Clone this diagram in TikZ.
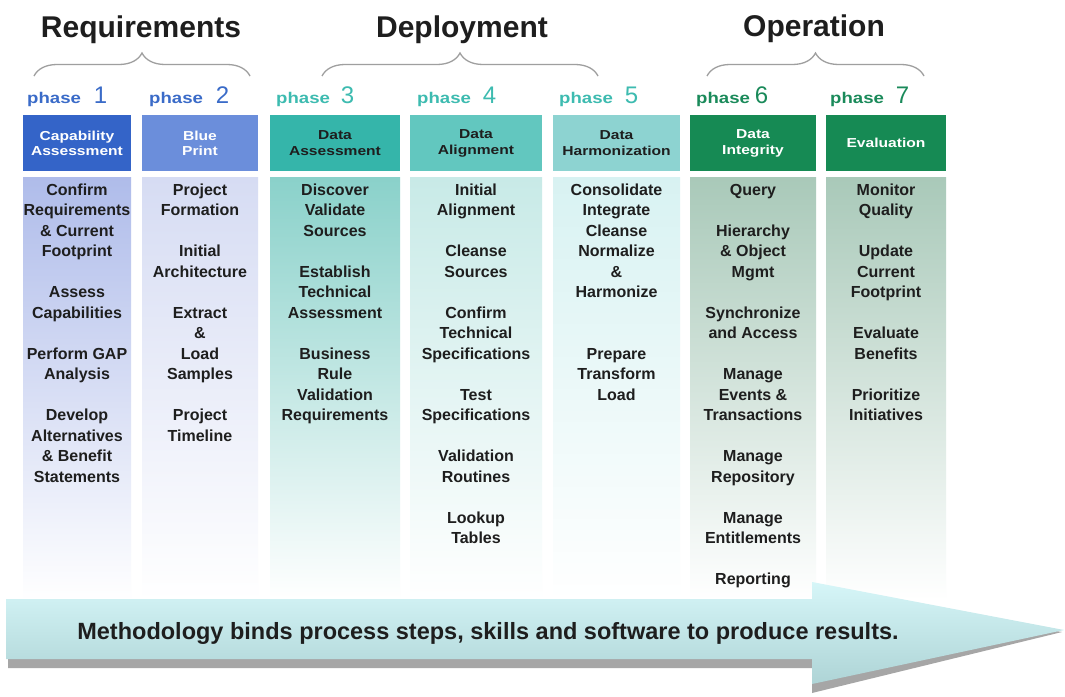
\documentclass[tikz,border=0pt]{standalone}
\usepackage{fontspec}
\setmainfont{Liberation Sans}
\newfontfamily\hdrfont[FakeStretch=1.2]{Liberation Sans}
\usetikzlibrary{decorations.pathreplacing,shadings}
\definecolor{hA}{HTML}{3464C8}
\definecolor{hB}{HTML}{6B8EDB}
\definecolor{hC}{HTML}{35B5AA}
\definecolor{hD}{HTML}{62C7BF}
\definecolor{hE}{HTML}{8DD3D1}
\definecolor{hF}{HTML}{168A54}
\definecolor{bA}{HTML}{AFBCEA}
\definecolor{bB}{HTML}{D6DCF3}
\definecolor{bC}{HTML}{8AD1CA}
\definecolor{bD}{HTML}{C8EAE7}
\definecolor{bE}{HTML}{D8F2F2}
\definecolor{bF}{HTML}{A9C9B9}
\definecolor{pBlue}{HTML}{3A6BC8}
\definecolor{pTeal}{HTML}{3DBBB0}
\definecolor{pGreen}{HTML}{1A8A5A}
\definecolor{txt}{HTML}{1E1E1E}
\definecolor{arrTop}{HTML}{D6F6F8}
\definecolor{arrBot}{HTML}{AED4D6}
\definecolor{arrShadow}{HTML}{A6A6A6}
\begin{document}
\begin{tikzpicture}[x=1pt,y=-1pt,
  title/.style={font=\fontsize{30}{34}\selectfont\bfseries, text=txt, anchor=base, inner sep=0},
  bracep/.style={decorate, decoration={brace, amplitude=23pt, aspect=0.5}, draw=gray!75, line width=1.3pt},
  hdrbox/.style={inner sep=0, minimum height=56pt, align=center, anchor=north,
     font=\hdrfont\fontsize{13}{15.5}\selectfont\bfseries},
  bodybox/.style={inner sep=0, minimum height=423pt, anchor=north, shade},
  items/.style={inner sep=0, anchor=north, align=center, text=txt,
     font=\fontsize{16}{20.5}\selectfont\bfseries},
  phaselbl/.style={inner sep=0, anchor=base west},
]
\useasboundingbox (0,0) rectangle (1065,696);
\fill[white] (0,0) rectangle (1065,696);

% titles
\node[title] (tReq) at (141,37) {Requirements};
\node[title] (tDep) at (462,37) {Deployment};
\node[title] (tOp) at (814,36) {Operation};

% braces
\coordinate (rq1) at (34,76); \coordinate (rq2) at (250,76);
\coordinate (dp1) at (322,76); \coordinate (dp2) at (598,76);
\coordinate (op1) at (707,76); \coordinate (op2) at (924,76);
\draw[bracep] (rq1) -- (rq2);
\draw[bracep] (dp1) -- (dp2);
\draw[bracep] (op1) -- (op2);

% phase labels
\newcommand{\phw}{{\hdrfont\fontsize{15.5}{18}\selectfont\bfseries phase}}
\newcommand{\phn}[1]{{\fontsize{24}{26}\selectfont #1}}
\node[phaselbl, text=pBlue] (ph1) at (27,103) {\phw\hspace{13pt}\phn{1}};
\node[phaselbl, text=pBlue] (ph2) at (149,103) {\phw\hspace{13pt}\phn{2}};
\node[phaselbl, text=pTeal] (ph3) at (276,103) {\phw\hspace{11pt}\phn{3}};
\node[phaselbl, text=pTeal] (ph4) at (417,103) {\phw\hspace{12pt}\phn{4}};
\node[phaselbl, text=pTeal] (ph5) at (559,103) {\phw\hspace{12pt}\phn{5}};
\node[phaselbl, text=pGreen] (ph6) at (696,103) {\phw\hspace{5pt}\phn{6}};
\node[phaselbl, text=pGreen] (ph7) at (830,103) {\phw\hspace{12pt}\phn{7}};

% body columns
\node[bodybox, minimum width=108pt, top color=bA, middle color=bA!55!white, bottom color=white] (b1) at (77,177) {};
\node[bodybox, minimum width=116pt, top color=bB, middle color=bB!55!white, bottom color=white] (b2) at (200,177) {};
\node[bodybox, minimum width=130pt, top color=bC, middle color=bC!55!white, bottom color=white] (b3) at (335,177) {};
\node[bodybox, minimum width=132pt, top color=bD, middle color=bD!55!white, bottom color=white] (b4) at (476,177) {};
\node[bodybox, minimum width=127pt, top color=bE, middle color=bE!55!white, bottom color=white] (b5) at (616.5,177) {};
\node[bodybox, minimum width=126pt, top color=bF, middle color=bF!55!white, bottom color=white] (b6) at (753,177) {};
\node[bodybox, minimum width=120pt, top color=bF, middle color=bF!55!white, bottom color=white] (b7) at (886,177) {};

% header boxes
\node[hdrbox, minimum width=108pt, fill=hA, text=white] (h1) at (77,115) {Capability\\Assessment};
\node[hdrbox, minimum width=116pt, fill=hB, text=white] (h2) at (200,115) {Blue\\Print};
\node[hdrbox, minimum width=130pt, fill=hC, text=txt] (h3) at (335,115) {Data\\Assessment};
\node[hdrbox, minimum width=132pt, fill=hD, text=txt] (h4) at (476,115) {Data\\Alignment};
\node[hdrbox, minimum width=127pt, fill=hE, text=txt] (h5) at (616.5,115) {Data\\Harmonization};
\node[hdrbox, minimum width=126pt, fill=hF, text=white] (h6) at (753,115) {Data\\Integrity};
\node[hdrbox, minimum width=120pt, fill=hF, text=white] (h7) at (886,115) {Evaluation};

% column items
\node[items] (i1) at (77,180.6) {\strut Confirm\\Requirements\\\& Current\\Footprint\\[20.5pt]Assess\\Capabilities\\[20.5pt]Perform GAP\\Analysis\\[20.5pt]Develop\\Alternatives\\\& Benefit\\Statements};
\node[items] (i2) at (200,180.6) {\strut Project\\Formation\\[20.5pt]Initial\\Architecture\\[20.5pt]Extract\\\&\\Load\\Samples\\[20.5pt]Project\\Timeline};
\node[items] (i3) at (335,180.6) {\strut Discover\\Validate\\Sources\\[20.5pt]Establish\\Technical\\Assessment\\[20.5pt]Business\\Rule\\Validation\\Requirements};
\node[items] (i4) at (476,180.6) {\strut Initial\\Alignment\\[20.5pt]Cleanse\\Sources\\[20.5pt]Confirm\\Technical\\Specifications\\[20.5pt]Test\\Specifications\\[20.5pt]Validation\\Routines\\[20.5pt]Lookup\\Tables};
\node[items] (i5) at (616.5,180.6) {\strut Consolidate\\Integrate\\Cleanse\\Normalize\\\&\\Harmonize\\[41pt]Prepare\\Transform\\Load};
\node[items] (i6) at (753,180.6) {\strut Query\\[20.5pt]Hierarchy\\\& Object\\Mgmt\\[20.5pt]Synchronize\\and Access\\[20.5pt]Manage\\Events \&\\Transactions\\[20.5pt]Manage\\Repository\\[20.5pt]Manage\\Entitlements\\[20.5pt]Reporting};
\node[items] (i7) at (886,180.6) {\strut Monitor\\Quality\\[20.5pt]Update\\Current\\Footprint\\[20.5pt]Evaluate\\Benefits\\[20.5pt]Prioritize\\Initiatives};

% big arrow
\fill[arrShadow] (8,610) -- (812,610) -- (812,591) -- (1062,632) -- (812,693) -- (812,668) -- (8,668) -- cycle;
\shade[top color=arrTop, bottom color=arrBot] (6,599) -- (812,599) -- (812,582) -- (1064,630) -- (812,684) -- (812,659) -- (6,659) -- cycle;
\node[inner sep=0, anchor=base, text=txt, font=\fontsize{23.5}{26}\selectfont\bfseries] (msg) at (488,639)
  {Methodology binds process steps, skills and software to produce results.};
\end{tikzpicture}
\end{document}
